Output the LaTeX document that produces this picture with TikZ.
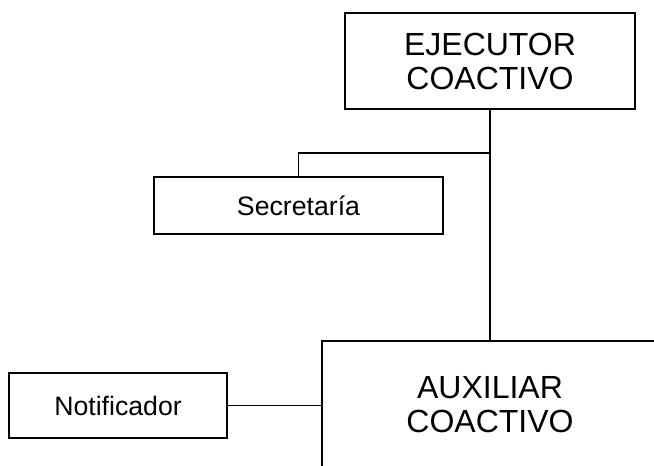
\documentclass[tikz,border=0pt]{standalone}
\usepackage{fontspec}
\setmainfont{Liberation Sans}
\begin{document}
\begin{tikzpicture}[x=0.75pt,y=-0.75pt,
  unit/.style={draw=black,line width=1pt,fill=white,inner sep=0pt,align=center},
  big/.style={unit,font=\fontsize{24}{25.5}\selectfont},
  small/.style={unit,font=\fontsize{20}{22}\selectfont},
  link/.style={draw=black,line width=1pt}]
\useasboundingbox (0,0) rectangle (654,466);
\clip (0,0) rectangle (654,466);

% units of the organisation chart
\node[big,minimum width=217.5pt,minimum height=72pt] (ej) at (490,61) {EJECUTOR\\COACTIVO};
\node[small,minimum width=216.75pt,minimum height=42.75pt] (sec) at (298.5,205.5) {Secretaría};
\node[big,minimum width=252pt,minimum height=96pt] (aux) at (490,405) {AUXILIAR\\COACTIVO};
\node[small,minimum width=163.5pt,minimum height=48.75pt] (not) at (118,405.5) {Notificador};

% reporting lines
\coordinate (j) at (490,153);
\draw[link] (ej.south) -- (aux.north);
\draw[link] (j) -| (sec.north);
\draw[link] (not.east) -- (not.east -| aux.west);
\end{tikzpicture}
\end{document}
